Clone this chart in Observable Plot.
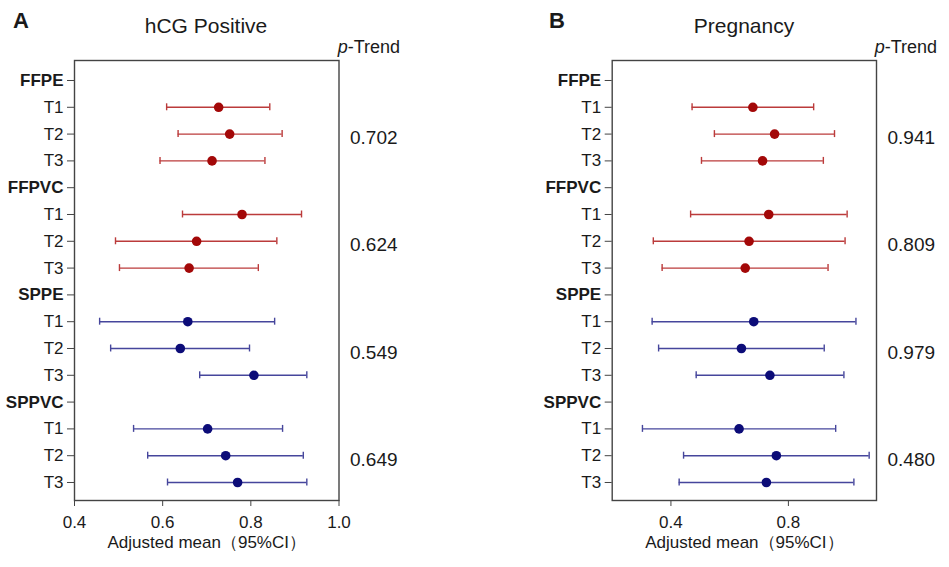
<!DOCTYPE html>
<html><head><meta charset="utf-8">
<script src="https://cdn.jsdelivr.net/npm/d3@7"></script>
<script src="https://cdn.jsdelivr.net/npm/@observablehq/plot@0.6"></script>
<style>
body{margin:0;background:#fff;}
#wrap{position:relative;width:949px;height:567px;font-family:"Liberation Sans",Arial,sans-serif;color:#1a1a1a;overflow:hidden;background:#fff}
.ov{position:absolute;white-space:nowrap;line-height:1}
.pn{position:absolute;top:0}
</style></head><body>
<div id="wrap"></div>
<script>
// ---- data ----
const groups = ["FFPE", "FFPVC", "SPPE", "SPPVC"];
const tiers = ["T1", "T2", "T3"];

const hcgMean = [0.727, 0.752, 0.712, 0.780, 0.677, 0.660, 0.657, 0.640, 0.807, 0.702, 0.743, 0.770];
const hcgLow  = [0.609, 0.635, 0.594, 0.645, 0.493, 0.502, 0.457, 0.482, 0.684, 0.534, 0.566, 0.611];
const hcgHigh = [0.843, 0.871, 0.832, 0.915, 0.859, 0.817, 0.854, 0.797, 0.927, 0.872, 0.919, 0.927];
const hcgPTrend = ["0.702", "0.624", "0.549", "0.649"];

const pregMean = [0.679, 0.753, 0.712, 0.733, 0.666, 0.653, 0.682, 0.640, 0.737, 0.632, 0.759, 0.725];
const pregLow  = [0.472, 0.548, 0.504, 0.467, 0.340, 0.370, 0.336, 0.358, 0.486, 0.303, 0.443, 0.428];
const pregHigh = [0.886, 0.957, 0.919, 1.000, 0.993, 0.935, 1.030, 0.922, 0.989, 0.961, 1.075, 1.023];
const pregPTrend = ["0.941", "0.809", "0.979", "0.480"];

const hcgTicks = [0.4, 0.6, 0.8, 1.0];
const pregTicks = [0.4, 0.8];
const xLabel = "Adjusted mean（95%CI）";

// ---- build tables ----
const rowLabels = [];
const headerIdx = [], tierIdx = [];
groups.forEach((g, gi) => {
  headerIdx.push(rowLabels.length); rowLabels.push(g);
  tiers.forEach(t => { tierIdx.push(rowLabels.length); rowLabels.push(t); });
});
function rows(mean, low, high) {
  const out = [];
  groups.forEach((g, gi) => tiers.forEach((t, ti) => {
    const k = gi * 3 + ti;
    out.push({i: gi * 4 + 1 + ti, mean: mean[k], low: low[k], high: high[k], fam: gi < 2 ? "FF" : "SP"});
  }));
  return out;
}
function ptab(p) { return p.map((v, gi) => ({i: gi * 4 + 2, v})); }

const lineCol = {FF: "#bb3b3b", SP: "#46469c"};
const dotCol = {FF: "#a30808", SP: "#0c0c78"};

function panel({data, pt, domain, ticks, left, width, mL, mR}) {
  const svg = Plot.plot({
    width, height: 567,
    marginLeft: mL, marginRight: mR, marginTop: 60, marginBottom: 67,
    style: {color: "#1a1a1a", fontFamily: "'Liberation Sans', Arial, sans-serif", background: "transparent"},
    x: {domain, axis: null},
    y: {domain: [-0.746, 15.672], reverse: true, axis: null},
    marks: [
      Plot.ruleY(data, {y: "i", x1: "low", x2: "high", stroke: d => lineCol[d.fam], strokeWidth: 1.4}),
      Plot.ruleX(data, {x: "low", y1: d => d.i - 0.13, y2: d => d.i + 0.13, stroke: d => lineCol[d.fam], strokeWidth: 1.4}),
      Plot.ruleX(data, {x: "high", y1: d => d.i - 0.13, y2: d => d.i + 0.13, stroke: d => lineCol[d.fam], strokeWidth: 1.4}),
      Plot.dot(data, {x: "mean", y: "i", r: 4.8, fill: d => dotCol[d.fam], stroke: "none"}),
      Plot.frame({stroke: "#444", strokeWidth: 1.4}),
      Plot.axisX(ticks, {tickSize: 6, tickPadding: 9, fontSize: 17, tickFormat: d3.format(".1f"), label: null, stroke: "#444"}),
      Plot.axisY(headerIdx, {tickFormat: i => rowLabels[i], fontWeight: "bold", fontSize: 17, tickSize: 7, tickPadding: 4, label: null, stroke: "#444"}),
      Plot.axisY(tierIdx, {tickFormat: i => rowLabels[i], fontSize: 17, tickSize: 7, tickPadding: 4, label: null, stroke: "#444"}),
      Plot.text(pt, {y: "i", text: "v", frameAnchor: "right", textAnchor: "start", dx: 11, dy: 4, fontSize: 19, fill: "#1a1a1a"}),
      Plot.text([xLabel], {frameAnchor: "bottom", dy: 47, fontSize: 17, fill: "#1a1a1a"})
    ]
  });
  const d = document.createElement("div");
  d.className = "pn"; d.style.left = left + "px";
  d.appendChild(svg);
  document.getElementById("wrap").appendChild(d);
}

panel({data: rows(hcgMean, hcgLow, hcgHigh), pt: ptab(hcgPTrend), domain: [0.4, 1.0], ticks: hcgTicks, left: 0, width: 474, mL: 74, mR: 135.5});
panel({data: rows(pregMean, pregLow, pregHigh), pt: ptab(pregPTrend), domain: [0.2, 1.1], ticks: pregTicks, left: 474, width: 475, mL: 137.7, mR: 73});

// ---- overlay titles ----
const wrap = document.getElementById("wrap");
function ov(html, css) {
  const e = document.createElement("div");
  e.className = "ov"; e.innerHTML = html; e.style.cssText += css;
  wrap.appendChild(e);
}
ov("A", "left:13px;top:10px;font-size:22px;font-weight:bold;");
ov("B", "left:549px;top:10px;font-size:22px;font-weight:bold;");
ov("hCG Positive", "left:206px;top:15px;font-size:21px;transform:translateX(-50%);");
ov("Pregnancy", "left:744px;top:15px;font-size:21px;transform:translateX(-50%);");
ov("<i>p</i>-Trend", "left:400px;top:38px;font-size:18px;transform:translateX(-100%);");
ov("<i>p</i>-Trend", "left:937px;top:38px;font-size:18px;transform:translateX(-100%);");
</script>
</body></html>
